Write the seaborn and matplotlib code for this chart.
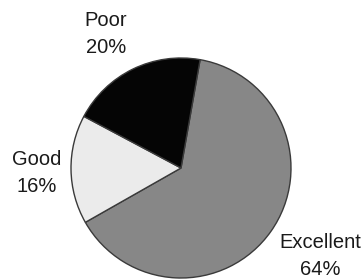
"""
Pie chart of ratings (Excellent / Good / Poor)
"""
import seaborn as sns
import matplotlib.pyplot as plt

# Data
categories = ['Excellent', 'Good', 'Poor']
shares = [64, 16, 20]
slice_colors = ['#878787', '#ebebeb', '#050505']


def plot_pie():
    sns.set_theme()
    sns.set_style("white")
    plt.rcParams['font.family'] = ['Liberation Sans', 'DejaVu Sans']

    fig = plt.figure(figsize=(3.64, 2.79), dpi=100)
    ax = fig.add_axes([0, 0, 1, 1])

    wedges, _ = ax.pie(
        shares,
        colors=slice_colors,
        startangle=80,
        counterclock=False,
        radius=1,
        wedgeprops=dict(edgecolor='#3a3a3a', linewidth=1.0),
    )

    # pie radius ~110 px, centre at (181, 168) px from top-left
    ax.set_xlim(-181 / 110, (364 - 181) / 110)
    ax.set_ylim(-(279 - 168) / 110, 168 / 110)
    ax.set_aspect('auto')
    ax.axis('off')

    label_pos = {'Excellent': (320, 256), 'Good': (37, 173), 'Poor': (106, 34)}
    for cat, val in zip(categories, shares):
        px, py = label_pos[cat]
        ax.text((px - 181) / 110, (168 - py) / 110, f"{cat}\n{val}%",
                ha='center', va='center', fontsize=14.5, color='#1a1a1a',
                linespacing=1.55)

    plt.savefig('out.png', dpi=100)


if __name__ == "__main__":
    plot_pie()
